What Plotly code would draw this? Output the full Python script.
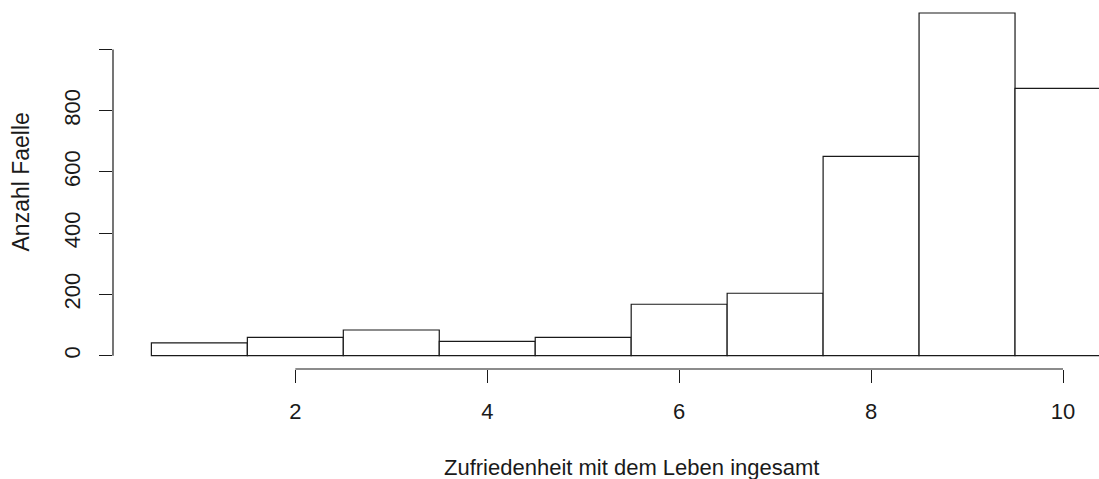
import plotly.graph_objects as go

# Histogram of life satisfaction (0-10 scale), one bin per integer value
bin_centers = [1, 2, 3, 4, 5, 6, 7, 8, 9, 10]
counts = [42, 60, 84, 47, 60, 168, 204, 651, 1119, 873]

x_ticks = [2, 4, 6, 8, 10]
y_ticks = [0, 200, 400, 600, 800, 1000]
y_tick_labels = ["0", "200", "400", "600", "800", ""]

x_title = "Zufriedenheit mit dem Leben ingesamt"
y_title = "Anzahl Faelle"

FONT = "Arial, Liberation Sans, sans-serif"
INK = "#1a1a1a"

fig = go.Figure()
fig.add_trace(go.Bar(
    x=bin_centers,
    y=counts,
    width=1,
    marker=dict(color="white", line=dict(color=INK, width=1.2)),
    hoverinfo="x+y",
))

fig.update_layout(
    width=1099,
    height=479,
    margin=dict(l=113, r=0, t=0, b=110),
    plot_bgcolor="white",
    paper_bgcolor="white",
    showlegend=False,
    font=dict(family=FONT, size=22, color=INK),
    xaxis=dict(
        range=[0.1, 10.375],
        showgrid=False, zeroline=False, showline=False,
        tickvals=x_ticks,
        ticks="outside", ticklen=13, tickwidth=1.2, tickcolor=INK,
        ticklabelstandoff=10,
        tickfont=dict(family=FONT, size=22, color=INK),
    ),
    yaxis=dict(
        range=[-43.4, 1161.5],
        showgrid=False, zeroline=False, showline=False,
        tickvals=y_ticks, ticktext=y_tick_labels,
        ticks="outside", ticklen=13, tickwidth=1.2, tickcolor=INK,
        tickangle=-90,
        ticklabelstandoff=10,
        tickfont=dict(family=FONT, size=22, color=INK),
    ),
    # axis lines spanning only the labelled tick range
    shapes=[
        dict(type="line", xref="x", yref="paper", x0=x_ticks[0], x1=x_ticks[-1],
             y0=0, y1=0, line=dict(color=INK, width=1.2)),
        dict(type="line", xref="paper", yref="y", x0=0, x1=0,
             y0=y_ticks[0], y1=y_ticks[-1], line=dict(color=INK, width=1.2)),
    ],
    annotations=[
        dict(text=x_title, xref="x", yref="paper", x=5.5, y=0,
             yanchor="middle", xanchor="center", yshift=-98, showarrow=False,
             font=dict(family=FONT, size=22, color=INK)),
        dict(text=y_title, xref="paper", yref="paper", x=0, y=0.5,
             xanchor="center", yanchor="middle", xshift=-93, yshift=2,
             textangle=-90, showarrow=False,
             font=dict(family=FONT, size=23, color=INK)),
    ],
)

fig.write_html("out.html")
